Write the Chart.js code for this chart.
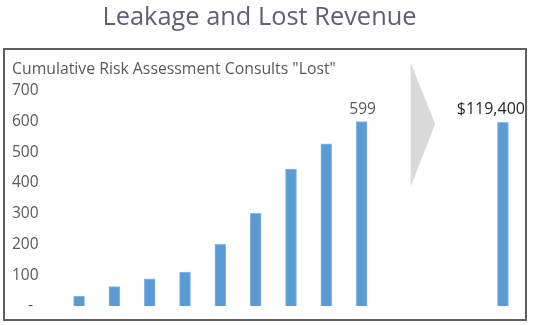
<!DOCTYPE html>
<html>
<head>
<meta charset="utf-8">
<title>Leakage and Lost Revenue</title>
<script src="https://cdn.jsdelivr.net/npm/chart.js@4/dist/chart.umd.min.js"></script>
<style>
  html, body { margin: 0; padding: 0; background: #ffffff; }
  #wrap { position: relative; width: 533px; height: 325px; }
</style>
</head>
<body>
<div id="wrap"><canvas id="chart" width="533" height="325"></canvas></div>
<script>
// Periods 1-9 carry the cumulative consult counts; three spacer slots hold the
// arrow, and the last slot carries the lost revenue total.
const categories = ['1', '2', '3', '4', '5', '6', '7', '8', '9', '', ' ', '  ', 'Revenue'];
const consultsLost = [32, 63, 88, 110, 200, 301, 445, 527, 599, null, null, null, null];
const revenueLost = [null, null, null, null, null, null, null, null, null, null, null, null, 119400];
const consultTicks = [0, 100, 200, 300, 400, 500, 600, 700];
const feePerConsult = 200;                 // revenue axis = consult axis x fee
const labelledIndex = 8;                   // the cumulative bar that shows its value
const arrowSpan = { xFrom: 9.39, xTip: 10.08, yTop: 790, yTip: 591, yBottom: 388 };
const chartTitle = 'Leakage and Lost Revenue';

const BLUE = '#5b9bd5';
const GREY_TEXT = '#595959';
const FONT = '"Open Sans", "Noto Sans", sans-serif';

const consultMax = consultTicks[consultTicks.length - 1];

// Heading, outer frame, the grey chevron and the value labels.
const decorations = {
  id: 'decorations',
  beforeDraw(chart) {
    const { ctx } = chart;
    ctx.save();
    ctx.font = '25.4px ' + FONT;
    ctx.fillStyle = '#5d6079';
    ctx.textAlign = 'center';
    ctx.textBaseline = 'alphabetic';
    ctx.fillText(chartTitle, 259.5, 24.5);

    ctx.strokeStyle = '#5f5f5f';
    ctx.lineWidth = 2;
    ctx.strokeRect(4, 49, 522, 271);

    const x = chart.scales.x, y = chart.scales.y;
    ctx.fillStyle = '#d9d9d9';
    ctx.beginPath();
    ctx.moveTo(x.getPixelForValue(arrowSpan.xFrom), y.getPixelForValue(arrowSpan.yTop));
    ctx.lineTo(x.getPixelForValue(arrowSpan.xTip), y.getPixelForValue(arrowSpan.yTip));
    ctx.lineTo(x.getPixelForValue(arrowSpan.xFrom), y.getPixelForValue(arrowSpan.yBottom));
    ctx.closePath();
    ctx.fill();
    ctx.restore();
  },
  afterDatasetsDraw(chart) {
    const { ctx } = chart;
    ctx.save();
    ctx.textBaseline = 'alphabetic';

    const bar = chart.getDatasetMeta(0).data[labelledIndex];
    ctx.font = '15.5px ' + FONT;
    ctx.fillStyle = GREY_TEXT;
    ctx.textAlign = 'center';
    ctx.fillText(String(consultsLost[labelledIndex]), bar.x + 1, bar.y - 8);

    const revIdx = revenueLost.findIndex(v => v !== null);
    const rbar = chart.getDatasetMeta(1).data[revIdx];
    ctx.font = '16px ' + FONT;
    ctx.fillStyle = '#262626';
    ctx.textAlign = 'right';
    ctx.fillText('$' + revenueLost[revIdx].toLocaleString('en-US'), rbar.x + 22, rbar.y - 8);
    ctx.restore();
  }
};

new Chart(document.getElementById('chart'), {
  type: 'bar',
  data: {
    labels: categories,
    datasets: [
      {
        label: 'Cumulative Risk Assessment Consults "Lost"',
        data: consultsLost,
        yAxisID: 'y',
        backgroundColor: BLUE,
        borderColor: '#8fbbe3',
        borderWidth: 1,
        grouped: false,
        barThickness: 11
      },
      {
        label: 'Lost Revenue',
        data: revenueLost,
        yAxisID: 'yRevenue',
        backgroundColor: BLUE,
        borderColor: '#8fbbe3',
        borderWidth: 1,
        grouped: false,
        barThickness: 11
      }
    ]
  },
  options: {
    responsive: false,
    animation: false,
    layout: { padding: { left: 12, right: 12.4, top: 0, bottom: 19 } },
    plugins: {
      legend: { display: false },
      tooltip: { enabled: false },
      title: { display: false },
      subtitle: {
        display: true,
        text: 'Cumulative Risk Assessment Consults "Lost"',
        align: 'start',
        color: GREY_TEXT,
        font: { family: FONT, size: 15.8, weight: 'normal' },
        padding: { top: 60, bottom: 11.6 }
      }
    },
    scales: {
      x: {
        display: false,
        offset: true
      },
      y: {
        min: consultTicks[0],
        max: consultMax,
        afterFit(scale) { scale.width = 49.4; },
        afterBuildTicks(scale) { scale.ticks = consultTicks.map(v => ({ value: v })); },
        grid: { display: false },
        border: { display: false },
        ticks: {
          crossAlign: 'far',
          color: GREY_TEXT,
          font: { family: FONT, size: 15.5 },
          callback: v => (v === 0 ? '    -' : String(v))
        }
      },
      yRevenue: {
        display: false,
        min: 0,
        max: consultMax * feePerConsult
      }
    }
  },
  plugins: [decorations]
});
</script>
</body>
</html>
